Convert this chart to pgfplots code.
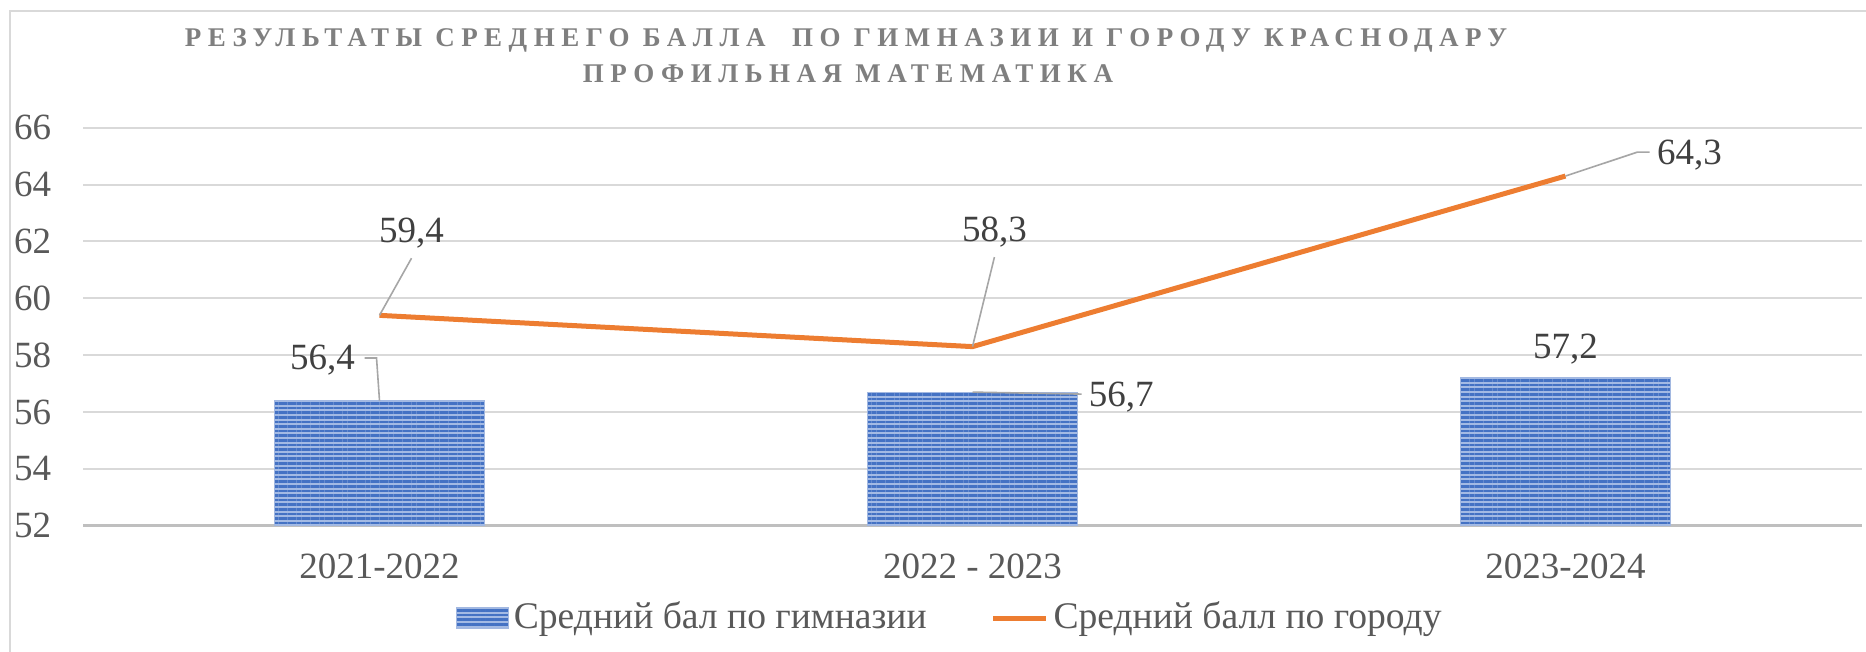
\documentclass[border=0pt]{standalone}
\usepackage{fontspec}
\setmainfont{Liberation Serif}
\usepackage{pgfplots}
\pgfplotsset{compat=1.18}
\usetikzlibrary{patterns.meta}
\definecolor{cBar}{HTML}{4472C4}
\definecolor{cBarLight}{HTML}{A3BAE4}
\definecolor{cLine}{HTML}{ED7D31}
\definecolor{cGrid}{HTML}{D9D9D9}
\definecolor{cAxis}{HTML}{BFBFBF}
\definecolor{cTick}{HTML}{595959}
\definecolor{cLabel}{HTML}{404040}
\definecolor{cLeader}{HTML}{A6A6A6}
\definecolor{cTitle}{HTML}{7F7F7F}
\newfontfamily\titlefont[LetterSpace=24]{Liberation Serif}
\begin{document}
\begin{tikzpicture}
\useasboundingbox (0,0) rectangle (466.5pt,-163pt);
\draw[cGrid, line width=0.5pt] (2.5pt,-163pt) -- (2.5pt,-2.75pt) -- (466.5pt,-2.75pt);
\node[anchor=base, text=cTitle, inner sep=0pt, font=\titlefont\bfseries\fontsize{6.75}{8}\selectfont] at (211.5pt,-11.75pt) {РЕЗУЛЬТАТЫ СРЕДНЕГО БАЛЛА~~ПО ГИМНАЗИИ И ГОРОДУ КРАСНОДАРУ};
\node[anchor=base, text=cTitle, inner sep=0pt, font=\titlefont\bfseries\fontsize{6.75}{8}\selectfont] at (212pt,-20.75pt) {ПРОФИЛЬНАЯ МАТЕМАТИКА};
\begin{axis}[
  at={(20.75pt,-131.43pt)}, anchor=south west,
  scale only axis, width=444.75pt, height=99.5pt,
  xmin=-0.5, xmax=2.5, ymin=52, ymax=66,
  xtick={0,1,2}, xticklabels={2021-2022, 2022 - 2023, 2023-2024},
  ytick={52,54,...,66},
  major tick length=0pt,
  ymajorgrids, grid style={cGrid, line width=0.5pt},
  axis x line*=bottom, axis y line*=left,
  x axis line style={cAxis, line width=0.75pt, -},
  y axis line style={draw=none},
  /pgf/number format/assume math mode=true,
  ticklabel style={font=\fontsize{9.25}{11}\selectfont, text=cTick},
  yticklabel style={anchor=east, inner sep=0pt, xshift=-7.75pt},
  xticklabel style={anchor=north, inner sep=0pt, yshift=-6.75pt},
  legend columns=2,
  legend style={at={(0.2096,-0.2319)}, anchor=west, draw=none, fill=none, inner sep=0pt, outer sep=0pt,
    font=\fontsize{9.4}{11}\selectfont, text=cTick,
    nodes={inner sep=0pt, text=cTick},
    /tikz/every odd column/.append style={column sep=1.2pt},
    /tikz/every even column/.append style={column sep=16pt}},
]
\addplot[ybar, bar width=0.354, fill=cBarLight, draw=cBar!50, line width=0.3pt,
  postaction={pattern color=cBar, pattern={Lines[angle=0,distance=1.15pt,line width=0.65pt]}},
  legend image code/.code={
    \fill[cBarLight] (0pt,-2.5pt) rectangle (13pt,2.5pt);
    \fill[pattern color=cBar, pattern={Lines[angle=0,distance=1.15pt,line width=0.65pt]}] (0pt,-2.5pt) rectangle (13pt,2.5pt);
  }] coordinates {(0,56.4) (1,56.7) (2,57.2)};
\addlegendentry{Средний бал по гимназии}
\addplot[cLine, line width=1.25pt, mark=none, line join=round,
  legend image code/.code={\draw[cLine, line width=1.25pt] (0pt,0pt) -- (13.25pt,0pt);}]
  coordinates {(0,59.4) (1,58.3) (2,64.3)};
\addlegendentry{Средний балл по городу}
% leader lines
\draw[cLeader, line width=0.4pt] (axis cs:0.054,61.41) -- (axis cs:0,59.4);
\draw[cLeader, line width=0.4pt] (axis cs:1.037,61.45) -- (axis cs:1,58.3);
\draw[cLeader, line width=0.4pt] (axis cs:2.142,65.14) -- (axis cs:2.121,65.14) -- (axis cs:2,64.3);
\draw[cLeader, line width=0.4pt] (axis cs:1,56.7) -- (axis cs:1.184,56.63);
\draw[cLeader, line width=0.4pt] (axis cs:-0.025,57.90) -- (axis cs:-0.005,57.90) -- (axis cs:0,56.4);
% data labels
\begin{scope}[every node/.style={font=\fontsize{9.25}{11}\selectfont, text=cLabel, inner sep=0pt}]
\node at (axis cs:0.054,62.30) {59,4};
\node at (axis cs:1.037,62.33) {58,3};
\node at (axis cs:2.209,65.04) {64,3};
\node at (axis cs:1.251,56.53) {56,7};
\node at (axis cs:-0.096,57.83) {56,4};
\node at (axis cs:2,58.21) {57,2};
\end{scope}
\end{axis}
\end{tikzpicture}
\end{document}
